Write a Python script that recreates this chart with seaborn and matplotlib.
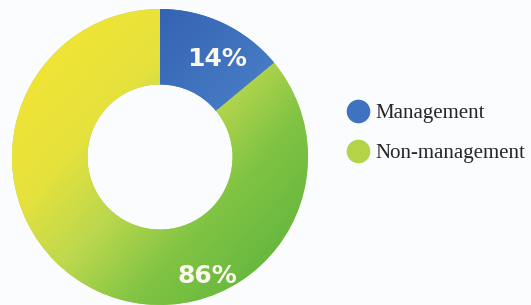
import numpy as np
import seaborn as sns
import matplotlib.pyplot as plt
from matplotlib.colors import LinearSegmentedColormap
from matplotlib.lines import Line2D

categories = ["Management", "Non-management"]
shares = [14, 86]
labels = ["14%", "86%"]

sns.set_theme(style="white")
plt.rcParams["font.family"] = ["Liberation Serif", "DejaVu Serif"]

bg = "#fbfcfe"
fig = plt.figure(figsize=(5.31, 3.05), dpi=100, facecolor=bg)
ax = fig.add_axes([12 / 531, 0.0, 296 / 531, 296 / 305])
ax.set_facecolor(bg)

wedges, _ = ax.pie(shares, startangle=90, counterclock=False, radius=1,
                   colors=["#3f6fbb", "#a8d04a"],
                   wedgeprops=dict(width=0.51, linewidth=0))

# watercolour-ish gradients clipped to each slice
xx, yy = np.meshgrid(np.linspace(-1, 1, 300), np.linspace(1, -1, 300))
t_green = (0.75 * xx - 0.66 * yy + 1) / 2
green_cmap = LinearSegmentedColormap.from_list(
    "nm", ["#f0e436", "#e6e23c", "#bcd84e", "#82c444", "#68b93f"])
im = ax.imshow(t_green, cmap=green_cmap, extent=[-1, 1, -1, 1], vmin=0, vmax=1, zorder=2)
im.set_clip_path(wedges[1])

t_blue = (xx - yy + 1) / 2
blue_cmap = LinearSegmentedColormap.from_list("mg", ["#3463b3", "#4478c2", "#5488cc"])
im2 = ax.imshow(t_blue, cmap=blue_cmap, extent=[-1, 1, -1, 1], vmin=0, vmax=1, zorder=2)
im2.set_clip_path(wedges[0])

label_pos = [(0.385, 0.665), (0.32, -0.805)]
for lab, (x, y) in zip(labels, label_pos):
    ax.text(x, y, lab, ha="center", va="center", color="#fbf7ec", zorder=3,
            fontsize=18, fontweight="bold", family=["DejaVu Sans"])

ax.set_xlim(-1, 1)
ax.set_ylim(-1, 1)
ax.set_aspect("equal")
ax.axis("off")

handles = [Line2D([], [], marker="o", linestyle="", markersize=17, markeredgewidth=0,
                  markerfacecolor=c) for c in ["#3f72c0", "#b4d448"]]
fig.legend(handles, categories, loc="upper left", bbox_to_anchor=(338 / 531, 1 - 95 / 305),
           frameon=False, fontsize=15, handletextpad=0.3, labelspacing=1.0,
           handlelength=1.1, borderaxespad=0)

fig.savefig("out.png", dpi=100, facecolor=bg)
